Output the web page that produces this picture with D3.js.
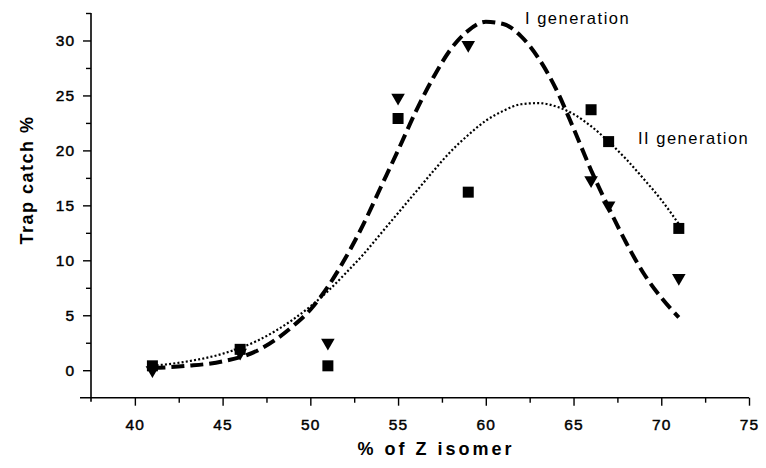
<!DOCTYPE html>
<html>
<head>
<meta charset="utf-8">
<script src="https://cdn.jsdelivr.net/npm/d3@7"></script>
<style>
  body { margin: 0; background: #fff; }
  svg text { font-family: "Liberation Sans", Arial, sans-serif; fill: #000; }
</style>
</head>
<body>
<div id="graph"></div>
<script>
var width = 766;
var height = 468;

// measured points
var isomerX = [41, 46, 51, 55, 59, 66, 67, 71];
var gen1Catch = [0.0, 1.6, 2.5, 24.8, 29.6, 17.3, 15.0, 8.4];
var gen2Catch = [0.4, 1.9, 0.4, 22.9, 16.2, 23.7, 20.8, 12.9];

// fitted curves
var curveX = [41, 43, 45, 47, 49, 50, 51, 52, 53, 54, 55, 56, 57, 58, 59, 60, 61, 62, 63, 64, 65, 66, 67, 68, 69, 70, 71];
var gen1Fit = [0.2, 0.4, 0.8, 1.8, 4.0, 5.5, 7.6, 10.2, 13.2, 16.6, 20.0, 23.5, 26.6, 29.2, 30.9, 31.7, 31.5, 30.4, 28.4, 25.6, 22.0, 18.2, 14.8, 11.6, 8.8, 6.6, 4.8];
var gen2Fit = [0.4, 0.8, 1.5, 2.7, 4.6, 5.8, 7.2, 8.8, 10.5, 12.4, 14.3, 16.2, 18.1, 19.9, 21.4, 22.7, 23.6, 24.2, 24.3, 24.0, 23.3, 22.2, 20.8, 19.2, 17.4, 15.5, 13.3];

var xMajor = [40, 45, 50, 55, 60, 65, 70, 75];
var xMinor = [42.5, 47.5, 52.5, 57.5, 62.5, 67.5, 72.5];
var yMajor = [0, 5, 10, 15, 20, 25, 30];
var yMinor = [2.5, 7.5, 12.5, 17.5, 22.5, 27.5, 32.5];

var svg = d3.select("#graph").append("svg")
  .attr("width", width)
  .attr("height", height);

var xScale = d3.scaleLinear().domain([37.5, 75]).range([91, 749]);
var yScale = d3.scaleLinear().domain([-2.5, 32.5]).range([397.7, 13]);

// ---- axes ----
var gx = svg.append("g")
  .attr("transform", "translate(0," + yScale(-2.5) + ")")
  .call(d3.axisBottom(xScale).tickValues(xMajor).tickSize(8).tickSizeOuter(0).tickFormat(d3.format("d")));
svg.append("g")
  .attr("transform", "translate(0," + yScale(-2.5) + ")")
  .call(d3.axisBottom(xScale).tickValues(xMinor).tickSize(5).tickFormat(""))
  .select(".domain").remove();

var gy = svg.append("g")
  .attr("transform", "translate(" + xScale(37.5) + ",0)")
  .call(d3.axisLeft(yScale).tickValues(yMajor).tickSize(8).tickSizeOuter(0).tickFormat(d3.format("d")));
svg.append("g")
  .attr("transform", "translate(" + xScale(37.5) + ",0)")
  .call(d3.axisLeft(yScale).tickValues(yMinor).tickSize(5).tickFormat(""))
  .select(".domain").remove();

gx.select(".domain").remove();
gy.select(".domain").remove();

// axis lines cross with a small overhang
svg.append("line")
  .attr("x1", xScale(37.5) - 11).attr("x2", xScale(75))
  .attr("y1", yScale(-2.5)).attr("y2", yScale(-2.5))
  .attr("stroke", "#000").attr("stroke-width", 1.6);
svg.append("line")
  .attr("x1", xScale(37.5)).attr("x2", xScale(37.5))
  .attr("y1", yScale(32.5)).attr("y2", yScale(-2.5) + 4)
  .attr("stroke", "#000").attr("stroke-width", 1.6);

svg.selectAll(".tick line").attr("stroke", "#000").attr("stroke-width", 1.4);
// tick labels a touch heavier, like the scanned print
svg.selectAll(".tick text")
  .style("font-size", "15.5px")
  .style("letter-spacing", "1.2px")
  .attr("stroke", "#000")
  .attr("stroke-width", 0.45);
gx.selectAll(".tick text").attr("dy", "1.4em");
gy.selectAll(".tick text").attr("dx", "-0.3em");

// axis titles
svg.append("text")
  .attr("x", 436)
  .attr("y", 455)
  .attr("text-anchor", "middle")
  .style("font-size", "18px")
  .style("font-weight", "bold")
  .style("letter-spacing", "3px")
  .text("% of Z  isomer");

svg.append("text")
  .attr("transform", "translate(33,180) rotate(-90)")
  .attr("text-anchor", "middle")
  .style("font-size", "18px")
  .style("font-weight", "bold")
  .style("letter-spacing", "1.5px")
  .text("Trap catch %");

// ---- fitted curves ----
var fitLine = function (vals) {
  return d3.line()
    .x(function (d, i) { return xScale(curveX[i]); })
    .y(function (d) { return yScale(d); })
    .curve(d3.curveMonotoneX)(vals);
};

svg.append("path")
  .attr("d", fitLine(gen2Fit))
  .attr("fill", "none")
  .attr("stroke", "#000")
  .attr("stroke-width", 2.2)
  .attr("stroke-dasharray", "2,2.2");

svg.append("path")
  .attr("d", fitLine(gen1Fit))
  .attr("fill", "none")
  .attr("stroke", "#000")
  .attr("stroke-width", 4)
  .attr("stroke-dasharray", "13,6");

// ---- markers ----
svg.selectAll("path.sq")
  .data(gen2Catch)
  .enter()
  .append("path")
  .attr("class", "sq")
  .attr("d", d3.symbol().type(d3.symbolSquare).size(121))
  .attr("transform", function (d, i) { return "translate(" + xScale(isomerX[i]) + "," + yScale(d) + ")"; })
  .attr("fill", "#000");

svg.selectAll("path.tri")
  .data(gen1Catch)
  .enter()
  .append("path")
  .attr("class", "tri")
  .attr("d", d3.symbol().type(d3.symbolTriangle).size(80))
  .attr("transform", function (d, i) { return "translate(" + xScale(isomerX[i]) + "," + yScale(d) + ") rotate(180)"; })
  .attr("fill", "#000");

// ---- curve labels ----
svg.append("text")
  .attr("x", 525)
  .attr("y", 24)
  .style("font-size", "16.5px")
  .style("letter-spacing", "1.5px")
  .text("I generation");

svg.append("text")
  .attr("x", 638)
  .attr("y", 144)
  .style("font-size", "16.5px")
  .style("letter-spacing", "1.5px")
  .text("II generation");
</script>
</body>
</html>
